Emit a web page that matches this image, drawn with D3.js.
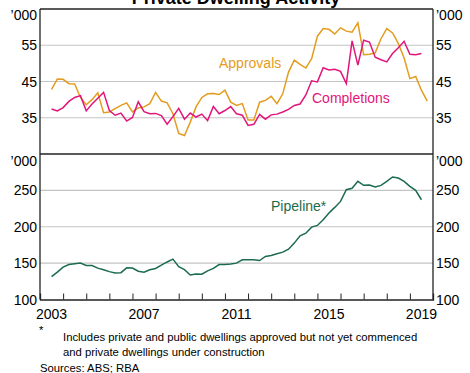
<!DOCTYPE html>
<html><head><meta charset="utf-8">
<script src="https://cdn.jsdelivr.net/npm/d3@7"></script>
<style>
html,body{margin:0;padding:0;background:#fff;}
svg{display:block;}
text{font-family:Arial,"Liberation Sans",sans-serif;fill:#000;}
</style></head>
<body>
<script>
// Quarterly data, first observation mid-2003
const startYear = 2003.5;
const approvals = [42.8,45.7,45.6,44.4,44.3,40.6,38.6,40.0,41.9,36.4,36.6,37.5,38.4,39.1,36.6,37.7,38.0,38.9,42.0,39.6,39.1,36.1,30.7,30.1,33.8,38.0,40.6,41.6,41.7,41.4,42.6,39.3,38.4,38.9,34.4,34.4,39.3,39.8,40.9,38.9,41.6,47.6,50.9,49.7,48.7,51.3,57.5,59.6,59.4,58.1,59.8,58.9,58.6,61.2,52.4,52.5,52.9,56.8,59.6,58.4,55.5,51.5,45.8,46.4,42.6,39.6];
const completions = [37.4,36.9,37.8,39.5,40.6,41.1,36.9,38.8,40.4,42.0,37.0,35.7,36.3,34.1,35.1,39.4,36.7,36.1,36.2,35.6,33.2,35.3,37.6,34.6,36.3,35.2,36.0,34.2,38.1,36.1,37.0,38.1,36.1,35.7,32.9,33.2,35.9,34.6,35.8,36.0,36.6,37.3,38.4,38.8,41.3,45.2,44.9,48.8,48.2,48.4,47.8,44.4,56.2,49.5,56.4,55.9,51.7,51.0,50.4,52.7,54.3,56.1,52.5,52.4,52.7];
const pipeline = [131.4,137.6,144.5,148,149.1,150,146.8,146.8,143.1,141,138.3,136.5,136.9,143.5,143.2,138.8,137.4,140.8,142.6,147.2,151.6,155.5,145.2,141,133.7,135,134.8,139.4,142.7,148,148,148.9,150,154.5,154.5,154.5,153.6,159.1,160.5,162.8,165.1,169.2,177.5,187.6,191.2,199.5,201.8,209.6,218.8,226.6,234.8,250.9,252.8,262.4,256.9,257.3,254.6,256.9,262.4,268.4,267,262.4,255.5,250,237.1];
const yearLabels = [2003, 2007, 2011, 2015, 2019];
const topTicks = [35, 45, 55];
const bottomTicks = [100, 150, 200, 250];
const footnoteLines = ["Includes private and public dwellings approved but not yet commenced", "and private dwellings under construction"];
const sourceText = "Sources: ABS; RBA";

const W = 470, H = 373;
const L = 40, R = 433;
const svg = d3.select("body").append("svg").attr("width", W).attr("height", H);

const x = d3.scaleLinear().domain([2003, 2020]).range([L, R]);
const yTop = d3.scaleLinear().domain([25, 65]).range([154, 9]);
const yBot = d3.scaleLinear().domain([100, 300]).range([299.5, 154]);

const grid = "#c4c4c4";
// gridlines
svg.append("g").selectAll("line").data(topTicks).join("line")
  .attr("x1", L).attr("x2", R).attr("y1", d => yTop(d)).attr("y2", d => yTop(d))
  .attr("stroke", grid).attr("stroke-width", 1.2);
svg.append("g").selectAll("line").data(bottomTicks.filter(d => d > 100)).join("line")
  .attr("x1", L).attr("x2", R).attr("y1", d => yBot(d)).attr("y2", d => yBot(d))
  .attr("stroke", grid).attr("stroke-width", 1.2);

// lines
const dateOf = i => startYear + i * 0.25;
const lineTop = d3.line().x((d, i) => x(dateOf(i))).y(d => yTop(d));
const lineBot = d3.line().x((d, i) => x(dateOf(i))).y(d => yBot(d));
svg.append("path").attr("d", lineTop(approvals)).attr("fill", "none").attr("stroke", "#e39c1e").attr("stroke-width", 1.5);
svg.append("path").attr("d", lineTop(completions)).attr("fill", "none").attr("stroke", "#e2157a").attr("stroke-width", 1.5);
svg.append("path").attr("d", lineBot(pipeline)).attr("fill", "none").attr("stroke", "#1b6b4e").attr("stroke-width", 1.5);

// frame
const frame = "#222";
svg.append("line").attr("x1", L).attr("x2", R).attr("y1", 9).attr("y2", 9).attr("stroke", frame).attr("stroke-width", 1.3);
svg.append("line").attr("x1", L).attr("x2", R).attr("y1", 154).attr("y2", 154).attr("stroke", frame).attr("stroke-width", 1.5);
svg.append("line").attr("x1", L).attr("x2", L).attr("y1", 9).attr("y2", 299.5).attr("stroke", frame).attr("stroke-width", 1.3);
svg.append("line").attr("x1", R).attr("x2", R).attr("y1", 9).attr("y2", 299.5).attr("stroke", frame).attr("stroke-width", 1.3);

// bottom axis with year ticks
const xAxis = d3.axisBottom(x).tickValues(d3.range(2004, 2020)).tickSize(-6).tickFormat("");
const gx = svg.append("g").attr("transform", "translate(0,299.5)").call(xAxis);
gx.select(".domain").attr("stroke", frame).attr("stroke-width", 1.3);
gx.selectAll(".tick line").attr("stroke", frame).attr("stroke-width", 1);

svg.append("g").selectAll("text").data(yearLabels).join("text")
  .attr("x", d => x(d + 0.5)).attr("y", 319).attr("text-anchor", "middle")
  .attr("font-size", 14).text(d => d);

// y labels
function yLabels(ticks, scale, unitY) {
  const g = svg.append("g").attr("font-size", 14);
  ticks.forEach(t => {
    g.append("text").attr("x", 37).attr("y", scale(t)).attr("dy", "0.36em").attr("text-anchor", "end").text(t);
    g.append("text").attr("x", 436).attr("y", scale(t)).attr("dy", "0.36em").attr("text-anchor", "start").text(t);
  });
  g.append("text").attr("x", 37).attr("y", unitY).attr("dy", "0.36em").attr("text-anchor", "end").text("\u2019000");
  g.append("text").attr("x", 436).attr("y", unitY).attr("dy", "0.36em").attr("text-anchor", "start").text("\u2019000");
}
yLabels(topTicks, yTop, 15);
yLabels(bottomTicks, yBot, 161);

// title (cropped at top, as in the reference)
svg.append("text").attr("x", 236).attr("y", 4).attr("text-anchor", "middle")
  .attr("font-size", 18).attr("font-weight", "bold").text("Private Dwelling Activity");

// series labels
svg.append("text").attr("x", 219).attr("y", 68).attr("font-size", 14).style("fill", "#e39c1e").text("Approvals");
svg.append("text").attr("x", 312).attr("y", 103).attr("font-size", 14).style("fill", "#e2157a").text("Completions");
svg.append("text").attr("x", 271).attr("y", 210.5).attr("font-size", 14).style("fill", "#1b6b4e").text("Pipeline*");

// footnotes
svg.append("text").attr("x", 39).attr("y", 334).attr("font-size", 11.3).text("*");
svg.append("g").selectAll("text").data(footnoteLines).join("text")
  .attr("x", 63).attr("y", (d, i) => 341 + i * 15).attr("font-size", 11.3).text(d => d);
svg.append("text").attr("x", 40).attr("y", 371.5).attr("font-size", 11.3).text(sourceText);
</script>
</body></html>
